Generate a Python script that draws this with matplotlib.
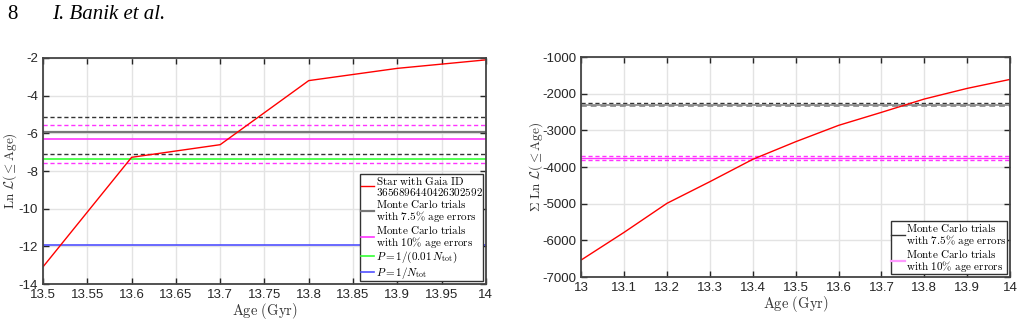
import numpy as np
import matplotlib.pyplot as plt
from matplotlib.ticker import FuncFormatter, MultipleLocator

plt.rcParams['mathtext.fontset'] = 'cm'
plt.rcParams['axes.unicode_minus'] = False
plt.rcParams['font.family'] = ['Liberation Sans', 'DejaVu Sans']

# left panel: single star
age_l = [13.5, 13.6, 13.7, 13.8, 13.9, 14.0]
lnL_star = [-13.08, -7.27, -6.60, -3.2, -2.55, -2.1]
mc75_l = [-5.12, -5.93, -7.11]     # dashed, solid, dashed
mc10_l = [-5.58, -6.28, -7.56]
p_1pct = -7.36
p_one = -11.93

# right panel: sum over stars
age_r = [13.0, 13.1, 13.2, 13.3, 13.4, 13.5, 13.6, 13.7, 13.8, 13.9, 14.0]
sum_lnL = [-6536, -5782, -4990, -4400, -3790, -3310, -2864, -2509, -2145, -1855, -1610]
mc75_r = [-2245, -2300, -2325]
mc10_r = [-3692, -3746, -3800]

RED = '#ff0000'
DARK = '#333333'
MAG = '#ff33ff'
GREEN = '#33ff33'
BLUE = '#5050ff'
AXC = '#262626'

fig = plt.figure(figsize=(10.25, 3.24), dpi=100)
fig.text(0.007, 0.955, '8', family='Liberation Serif', fontsize=15, va='center')
fig.text(0.051, 0.955, 'I. Banik et al.', family='Liberation Serif', style='italic',
         fontsize=15, va='center')


def style_ax(ax):
    ax.grid(True, color='#e3e3e3', linewidth=1.0)
    ax.set_axisbelow(True)
    for s in ax.spines.values():
        s.set_color('#444444')
        s.set_linewidth(1.3)
    ax.tick_params(direction='in', length=4, width=1.0, colors=AXC, labelsize=9.5,
                   top=True, right=True)
    ax.tick_params(axis='x', pad=3.5)
    ax.tick_params(axis='y', pad=3.5)
    ax.xaxis.set_major_formatter(FuncFormatter(lambda v, p: '{:g}'.format(round(v, 4))))


def hl(ax, y, c, ls, lw=1.0):
    ax.axhline(y, color=c, linestyle=ls, linewidth=lw, dashes=(3, 2) if ls == '--' else ())


def make_legend(ax, handles, labels):
    leg = ax.legend(handles, labels, loc='lower right',
                    fontsize=8, handlelength=1.2, handletextpad=0.15, labelspacing=0.0,
                    borderpad=0.05, borderaxespad=0.25, fancybox=False, framealpha=1,
                    edgecolor='#333333')
    leg.get_frame().set_linewidth(1.0)
    for t in leg.get_texts():
        t.set_linespacing(0.9)
    return leg


labels = [r'$\mathrm{Star\ with\ Gaia\ ID}$' + '\n' + r'$\mathrm{3656896440426302592}$',
          r'$\mathrm{Monte\ Carlo\ trials}$' + '\n' + r'$\mathrm{with\ 7.5\%\ age\ errors}$',
          r'$\mathrm{Monte\ Carlo\ trials}$' + '\n' + r'$\mathrm{with\ 10\%\ age\ errors}$',
          r'$P = 1/(0.01\,N_{\rm tot})$',
          r'$P = 1/N_{\rm tot}$']

# ---- left
ax1 = fig.add_axes([0.042, 0.123, 0.432, 0.698])
style_ax(ax1)
hl(ax1, mc75_l[0], DARK, '--')
hl(ax1, mc75_l[2], DARK, '--')
hl(ax1, mc10_l[0], MAG, '--')
hl(ax1, mc10_l[2], MAG, '--')
l_gray, = ax1.plot([13.5, 14.0], [mc75_l[1]] * 2, color='#777777', lw=1.6)
l_mag, = ax1.plot([13.5, 14.0], [mc10_l[1]] * 2, color=MAG, lw=1.2)
l_green, = ax1.plot([13.5, 14.0], [p_1pct] * 2, color=GREEN, lw=1.2)
l_blue, = ax1.plot([13.5, 14.0], [p_one] * 2, color=BLUE, lw=1.2)
l_red, = ax1.plot(age_l, lnL_star, color=RED, lw=1.0)
ax1.set_xlim(13.5, 14.0)
ax1.set_ylim(-14, -2)
ax1.xaxis.set_major_locator(MultipleLocator(0.05))
ax1.yaxis.set_major_locator(MultipleLocator(2))
ax1.set_xlabel(r'$\mathrm{Age\ (Gyr)}$', fontsize=10.5, color='#333333', labelpad=0)
ax1.set_ylabel(r'$\mathrm{Ln}\ \mathcal{L}(\leq \mathrm{Age})$', fontsize=9.5,
               color='#333333')
ax1.yaxis.set_label_coords(-0.054, 0.5)
make_legend(ax1, [l_red, l_gray, l_mag, l_green, l_blue], labels)

# ---- right
ax2 = fig.add_axes([0.567, 0.145, 0.4185, 0.679])
style_ax(ax2)
hl(ax2, mc75_r[0], DARK, '--')
hl(ax2, mc75_r[2], '#999999', '--', 1.4)
hl(ax2, mc10_r[0], MAG, '--')
hl(ax2, mc10_r[2], MAG, '--')
r_gray, = ax2.plot([13.0, 14.0], [mc75_r[1]] * 2, color='#888888', lw=1.2)
r_mag, = ax2.plot([13.0, 14.0], [mc10_r[1]] * 2, color=MAG, lw=1.0)
ax2.plot(age_r, sum_lnL, color=RED, lw=1.0)
ax2.set_xlim(13.0, 14.0)
ax2.set_ylim(-7000, -1000)
ax2.xaxis.set_major_locator(MultipleLocator(0.1))
ax2.yaxis.set_major_locator(MultipleLocator(1000))
ax2.set_xlabel(r'$\mathrm{Age\ (Gyr)}$', fontsize=10.5, color='#333333', labelpad=0)
ax2.set_ylabel(r'$\Sigma\ \mathrm{Ln}\ \mathcal{L}(\leq \mathrm{Age})$', fontsize=9.5,
               color='#333333')
ax2.yaxis.set_label_coords(-0.084, 0.5)
h_gray, = ax2.plot([], [], color='#333333', lw=1.0)
h_pink, = ax2.plot([], [], color='#ff99ff', lw=1.6)
make_legend(ax2, [h_gray, h_pink], labels[1:3])

fig.savefig('out.png', dpi=100)
